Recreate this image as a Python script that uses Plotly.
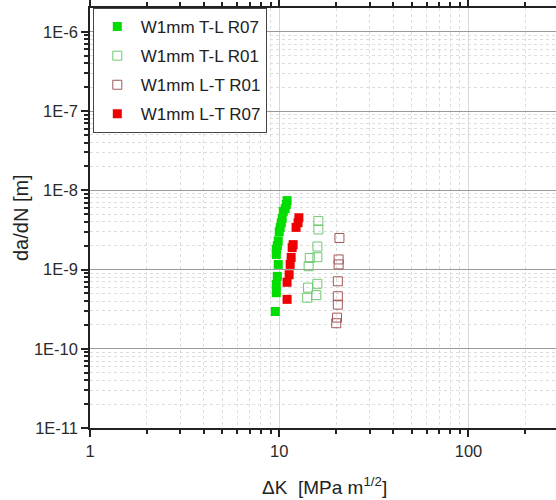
import plotly.graph_objects as go
import numpy as np

# T-L R07 (filled green)
tl_r07_dk = [11.0, 10.9, 10.75, 10.5, 10.37, 10.25, 10.12, 10.0, 9.88, 9.77, 9.65, 9.65, 9.88, 9.77, 9.65, 9.65, 9.53]
tl_r07_da = [7.4e-9, 6.6e-9, 5.85e-9, 5.4e-9, 4.4e-9, 3.9e-9, 3.4e-9, 3.0e-9, 2.3e-9, 2.0e-9, 1.8e-9, 1.55e-9, 1.16e-9, 8.2e-10, 6.5e-10, 5.1e-10, 2.95e-10]

# T-L R01 (open green)
tl_r01_dk = [16.1, 16.1, 15.9, 14.5, 15.9, 14.3, 15.9, 14.2, 15.7, 14.05]
tl_r01_da = [4.1e-9, 3.2e-9, 1.95e-9, 1.4e-9, 1.43e-9, 1.1e-9, 6.6e-10, 5.9e-10, 4.75e-10, 4.4e-10]

# L-T R01 (open brown)
lt_r01_dk = [20.8, 20.6, 20.6, 20.4, 20.4, 20.4, 20.2, 20.0]
lt_r01_da = [2.5e-9, 1.34e-9, 1.16e-9, 7.1e-10, 4.6e-10, 3.6e-10, 2.47e-10, 2.1e-10]

# L-T R07 (filled red)
lt_r07_dk = [12.7, 12.57, 12.27, 11.84, 11.7, 11.56, 11.42, 11.28, 11.0, 11.0]
lt_r07_da = [4.5e-9, 3.9e-9, 3.4e-9, 2.06e-9, 1.89e-9, 1.42e-9, 1.16e-9, 8.6e-10, 6.9e-10, 4.2e-10]

x_ticks = [1, 10, 100]
x_ticktext = ["1", "10", "100"]
y_ticks = [1e-11, 1e-10, 1e-9, 1e-8, 1e-7, 1e-6]
y_ticktext = ["1E-11", "1E-10", "1E-9", "1E-8", "1E-7", "1E-6"]

x_minor = [m * 10 ** d for d in range(0, 3) for m in range(2, 10)]
y_minor = [m * 10.0 ** d for d in range(-11, -5) for m in range(2, 10)]

fig = go.Figure()
fig.add_trace(go.Scatter(x=tl_r07_dk, y=tl_r07_da, mode="markers", name="W1mm T-L R07", legendgroup="g1",
                         marker=dict(symbol="square", size=9, color="#00dd00", line=dict(width=0))))
fig.add_trace(go.Scatter(x=tl_r01_dk, y=tl_r01_da, mode="markers", name="W1mm T-L R01", legendgroup="g2",
                         marker=dict(symbol="square-open", size=9, color="#70c870", line=dict(width=1))))
fig.add_trace(go.Scatter(x=lt_r01_dk, y=lt_r01_da, mode="markers", name="W1mm L-T R01", legendgroup="g3",
                         marker=dict(symbol="square-open", size=9, color="#a05858", line=dict(width=1))))
fig.add_trace(go.Scatter(x=lt_r07_dk, y=lt_r07_da, mode="markers", name="W1mm L-T R07", legendgroup="g4",
                         marker=dict(symbol="square", size=9, color="#ee0000", line=dict(width=0))))

font_family = "Liberation Sans, Arial, sans-serif"

fig.update_layout(
    width=556, height=500,
    margin=dict(l=90, r=0, t=8, b=72),
    paper_bgcolor="white", plot_bgcolor="white",
    font=dict(family=font_family, size=16.5, color="#2a2a2a"),
    showlegend=True,
    legend=dict(x=0.006, y=1, xanchor="left", yanchor="top",
                bgcolor="white", bordercolor="#444", borderwidth=1,
                font=dict(size=17, color="#222"), itemwidth=37,
                traceorder="grouped", tracegroupgap=4),
    xaxis=dict(type="log", range=[0, np.log10(290)],
               tickmode="array", tickvals=x_ticks, ticktext=x_ticktext,
               ticks="outside", ticklen=7, tickwidth=1.5, tickcolor="#222",
               showline=True, linecolor="#222", linewidth=1.5, mirror="ticks",
               showgrid=True, gridcolor="#d8d8d8", gridwidth=1,
               zeroline=False,
               minor=dict(tickmode="array", tickvals=x_minor, ticks="outside", ticklen=4,
                          tickcolor="#222", showgrid=True, gridcolor="#dddddd", griddash="dot")),
    yaxis=dict(type="log", range=[-11, -5.7],
               tickmode="array", tickvals=y_ticks, ticktext=y_ticktext,
               ticks="outside", ticklen=7, tickwidth=1.5, tickcolor="#222",
               showline=True, linecolor="#222", linewidth=1.5, mirror=False,
               showgrid=True, gridcolor="#9a9a9a", gridwidth=1,
               zeroline=False,
               minor=dict(tickmode="array", tickvals=y_minor, ticks="outside", ticklen=4,
                          tickcolor="#222", showgrid=True, gridcolor="#dddddd", griddash="dot")),
    annotations=[
        dict(text="ΔK  [MPa m<sup>1/2</sup>]", xref="paper", yref="paper", x=0.504, y=-0.138,
             xanchor="center", yanchor="middle", showarrow=False, font=dict(size=19, color="#222")),
        dict(text="da/dN [m]", xref="paper", yref="paper", x=-0.148, y=0.5, textangle=-90,
             xanchor="center", yanchor="middle", showarrow=False, font=dict(size=20, color="#222")),
    ],
)

fig.write_html("out.html")
